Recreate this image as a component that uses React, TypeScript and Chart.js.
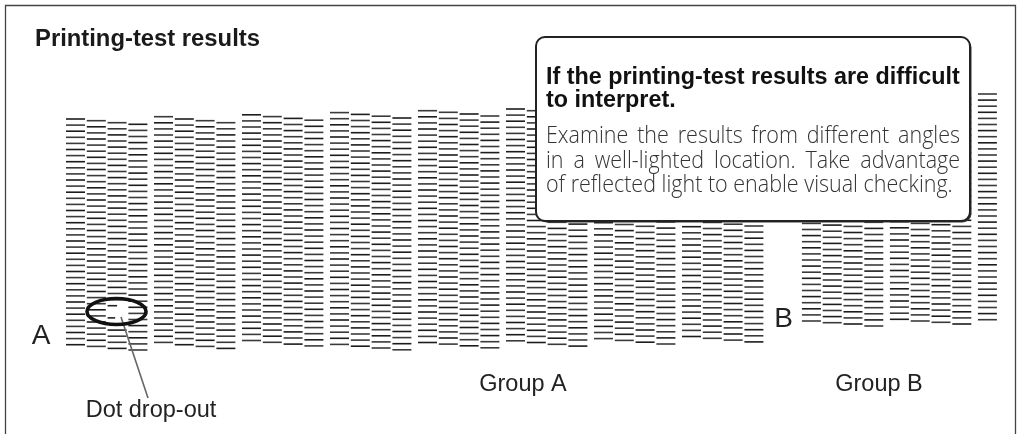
import React, { useEffect, useRef } from "react";
import { Chart, registerables } from "chart.js";

Chart.register(...registerables);

const W = 1022;
const H = 434;

// ---- data ----
// Group A: 8 blocks x 4 nozzle columns. Top of each column (sheet units, from top) and dash count.
const groupATops = [
  119.0, 120.7, 122.7, 124.3,
  116.7, 119.0, 120.7, 122.7,
  114.8, 116.6, 118.4, 120.2,
  112.6, 114.4, 116.2, 118.0,
  110.7, 112.3, 114.0, 116.0,
  109.0, 110.7, 112.5, 114.3,
  106.8, 108.6, 110.4, 112.2,
  104.7, 106.5, 108.3, 110.1,
];
const groupARows = [
  38, 38, 38, 38,
  38, 38, 38, 38,
  38, 38, 38, 38,
  39, 39, 39, 39,
  39, 39, 39, 39,
  39, 39, 39, 39,
  39, 39, 39, 39,
  39, 39, 39, 39,
];
// Group B: 9 nozzle columns (2 blocks of 4 + 1)
const groupBTops = [95.3, 97.0, 98.3, 100.3, 93.6, 95.3, 96.6, 98.3, 94.0];
const groupBRows = [38, 38, 38, 38, 38, 38, 38, 38, 38];
// Dot drop-outs: [group A column index, dash row, remaining fraction of the dash]
const dropouts: [number, number, number][] = [
  [2, 30, 0.5],
  [2, 31, 0],
  [2, 32, 0.4],
];

const titleText = "Printing-test results";
const noteHeading = ["If the printing-test results are difficult", "to interpret."];
const noteBody = [
  "Examine the results from different angles",
  "in a well-lighted location. Take advantage",
  "of reflected light to enable visual checking.",
];
const groupLabels = ["Group A", "Group B"];
const edgeLabels = ["A", "B"];
const calloutLabel = "Dot drop-out";

// ---- layout constants ----
const COL_PX = 20.8; // one column slot in px
const FIRST_COL_CENTER = 75.5;
const BLOCK = 4;
const BLOCK_PITCH = 88 / COL_PX; // slots per block of 4
const GROUP_B_START = 35.38; // slot of first group-B column
const PITCH = 6.1; // dash pitch
const HALF_DASH = 9.5; // px

function slotA(i: number) {
  return Math.floor(i / BLOCK) * BLOCK_PITCH + (i % BLOCK);
}
function slotB(j: number) {
  return GROUP_B_START + Math.floor(j / BLOCK) * BLOCK_PITCH + (j % BLOCK);
}

function buildPoints() {
  const full: { x: number; y: number; c: string }[] = [];
  const partial: { x: number; y: number; f: number }[] = [];
  const dropMap = new Map<string, number>();
  dropouts.forEach(([c, r, f]) => dropMap.set(c + ":" + r, f));
  const shade = (i: number, k: number) => ((k * 13 + i * 7) % 5 < 2 ? "#1c1c1c" : "#3a3a3a");
  groupATops.forEach((top, i) => {
    for (let k = 0; k < groupARows[i]; k++) {
      const key = i + ":" + k;
      const y = top + k * PITCH;
      if (dropMap.has(key)) {
        const f = dropMap.get(key)!;
        if (f > 0) {
          partial.push({ x: slotA(i) - (HALF_DASH * (1 - f)) / COL_PX, y, f });
        }
      } else {
        full.push({ x: slotA(i), y, c: shade(i, k) });
      }
    }
  });
  groupBTops.forEach((top, j) => {
    for (let k = 0; k < groupBRows[j]; k++) {
      full.push({ x: slotB(j), y: top + k * PITCH, c: shade(j + 3, k) });
    }
  });
  return { full, partial };
}

function fitSize(ctx: CanvasRenderingContext2D, text: string, weight: string, family: string, target: number) {
  ctx.font = `${weight} 100px ${family}`;
  const w = ctx.measureText(text).width;
  return (100 * target) / w;
}

function drawJustified(ctx: CanvasRenderingContext2D, text: string, x: number, y: number, width: number) {
  const words = text.split(" ");
  const ws = words.map((w) => ctx.measureText(w).width);
  const sum = ws.reduce((a, b) => a + b, 0);
  const gap = (width - sum) / (words.length - 1);
  let cx = x;
  words.forEach((w, i) => {
    ctx.fillText(w, cx, y);
    cx += ws[i] + gap;
  });
}

const overlayPlugin = {
  id: "overlay",
  beforeDraw(chart: any) {
    const ctx = chart.ctx as CanvasRenderingContext2D;
    ctx.save();
    ctx.fillStyle = "#ffffff";
    ctx.fillRect(0, 0, W, H);
    ctx.restore();
  },
  afterDraw(chart: any) {
    const ctx = chart.ctx as CanvasRenderingContext2D;
    ctx.save();
    // frame
    ctx.strokeStyle = "#444";
    ctx.lineWidth = 1.3;
    ctx.beginPath();
    ctx.moveTo(5.5, H + 2);
    ctx.lineTo(5.5, 5.5);
    ctx.lineTo(1015.5, 5.5);
    ctx.lineTo(1015.5, H + 2);
    ctx.stroke();

    // title
    const sans = '"Liberation Sans", Arial, sans-serif';
    ctx.fillStyle = "#1a1a1a";
    ctx.textBaseline = "alphabetic";
    ctx.textAlign = "left";
    const ts = fitSize(ctx, titleText, "bold", sans, 225);
    ctx.font = `bold ${ts}px ${sans}`;
    ctx.fillText(titleText, 35, 46);

    // edge labels
    ctx.font = `28px ${sans}`;
    ctx.textAlign = "center";
    ctx.fillStyle = "#222";
    ctx.fillText(edgeLabels[0], 41, 344);
    ctx.fillText(edgeLabels[1], 783.5, 327);

    // group labels
    ctx.font = `23.5px ${sans}`;
    ctx.fillText(groupLabels[0], 523, 391);
    ctx.fillText(groupLabels[1], 879, 391);

    // leader line + label
    ctx.strokeStyle = "#666";
    ctx.lineWidth = 1.6;
    ctx.beginPath();
    ctx.moveTo(121, 317);
    ctx.lineTo(148, 398);
    ctx.stroke();
    ctx.fillStyle = "#222";
    ctx.fillText(calloutLabel, 151, 417);

    // ellipse
    ctx.strokeStyle = "#111";
    ctx.lineWidth = 3.6;
    ctx.beginPath();
    ctx.ellipse(116.5, 311.5, 29.5, 13, 0, 0, Math.PI * 2);
    ctx.stroke();

    // note box
    const bx = 536, by = 37, bw = 434, bh = 184, r = 9;
    ctx.fillStyle = "#333";
    ctx.beginPath();
    (ctx as any).roundRect(bx + 1.5, by + 1.5, bw, bh, r);
    ctx.fill();
    ctx.fillStyle = "#fff";
    ctx.strokeStyle = "#222";
    ctx.lineWidth = 2;
    ctx.beginPath();
    (ctx as any).roundRect(bx, by, bw, bh, r);
    ctx.fill();
    ctx.stroke();

    ctx.textAlign = "left";
    ctx.fillStyle = "#111";
    const hs = fitSize(ctx, noteHeading[0], "bold", sans, 414);
    ctx.font = `bold ${hs}px ${sans}`;
    ctx.fillText(noteHeading[0], 546, 84);
    ctx.fillText(noteHeading[1], 546, 107);

    // body: light humanist face, slightly condensed
    const body = '"Open Sans", "Noto Sans", sans-serif';
    const squeeze = 0.9;
    const bs = fitSize(ctx, noteBody[2], "300", body, 407 / squeeze);
    ctx.font = `300 ${bs}px ${body}`;
    ctx.fillStyle = "#333";
    ctx.save();
    ctx.translate(546, 0);
    ctx.scale(squeeze, 1);
    drawJustified(ctx, noteBody[0], 0, 143, 414 / squeeze);
    drawJustified(ctx, noteBody[1], 0, 167.5, 414 / squeeze);
    ctx.fillText(noteBody[2], 0, 192);
    ctx.restore();
    ctx.restore();
  },
};

export default function App() {
  const ref = useRef<HTMLCanvasElement>(null);
  useEffect(() => {
    if (!ref.current) return;
    const { full, partial } = buildPoints();
    const chart = new Chart(ref.current, {
      type: "scatter",
      data: {
        datasets: [
          {
            data: full as any,
            pointStyle: "line",
            pointRadius: HALF_DASH,
            pointBorderWidth: 1.6,
            pointBorderColor: (c: any) => (c.raw ? c.raw.c : "#222"),
            pointBackgroundColor: "#222",
            showLine: false,
          },
          {
            data: partial as any,
            pointStyle: "line",
            pointRadius: (c: any) => HALF_DASH * (c.raw ? c.raw.f : 1),
            pointBorderWidth: 1.6,
            pointBorderColor: "#222",
            showLine: false,
          },
        ],
      },
      options: {
        responsive: false,
        maintainAspectRatio: false,
        animation: false,
        events: [],
        devicePixelRatio: 1,
        layout: { padding: 0, autoPadding: false },
        plugins: { legend: { display: false }, tooltip: { enabled: false } },
        scales: {
          x: {
            type: "linear",
            display: false,
            min: -FIRST_COL_CENTER / COL_PX,
            max: (W - FIRST_COL_CENTER) / COL_PX,
          },
          y: { type: "linear", display: false, min: 0, max: H, reverse: true },
        },
      },
      plugins: [overlayPlugin],
    } as any);
    return () => chart.destroy();
  }, []);
  return (
    <div style={{ position: "fixed", left: 0, top: 0, width: W, height: H, background: "#fff" }}>
      <canvas ref={ref} width={W} height={H} style={{ display: "block", width: W, height: H }} />
    </div>
  );
}
